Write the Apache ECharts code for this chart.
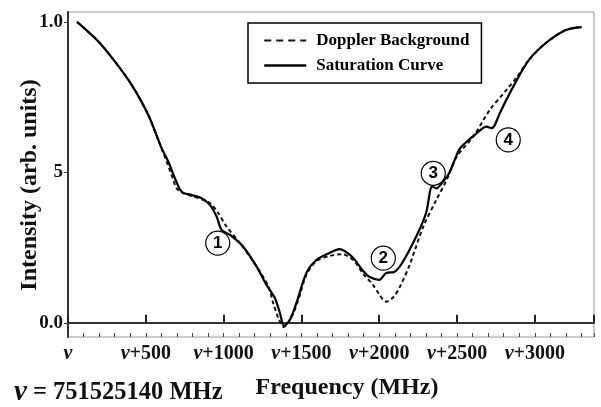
<!DOCTYPE html>
<html><head><meta charset="utf-8">
<script src="https://cdn.jsdelivr.net/npm/echarts@6/dist/echarts.min.js"></script>
<style>html,body{margin:0;padding:0;background:#fff}#c{width:601px;height:407px}</style>
</head><body><div id="c"></div>
<script>
const seriesNames = ['Doppler Background', 'Saturation Curve'];
const satFreq = [58, 195, 302, 409, 516, 602, 644, 687, 730, 795, 859, 912, 955, 987, 1041, 1126, 1212, 1276, 1330, 1362, 1388, 1426, 1469, 1532, 1596, 1680, 1744, 1827, 1891, 1936, 2000, 2045, 2096, 2147, 2237, 2301, 2340, 2368, 2392, 2449, 2513, 2551, 2625, 2690, 2722, 2743, 2775, 2861, 2962, 3071, 3199, 3301];
const satIntensity = [1.0, 0.935, 0.868, 0.791, 0.691, 0.580, 0.536, 0.481, 0.436, 0.425, 0.414, 0.392, 0.353, 0.309, 0.292, 0.253, 0.187, 0.126, 0.082, 0.032, -0.010, 0.010, 0.068, 0.166, 0.209, 0.232, 0.245, 0.219, 0.176, 0.153, 0.143, 0.166, 0.169, 0.199, 0.286, 0.365, 0.453, 0.447, 0.458, 0.497, 0.575, 0.597, 0.630, 0.652, 0.647, 0.658, 0.697, 0.785, 0.874, 0.930, 0.973, 0.983];
const dopFreq = [58, 195, 302, 409, 516, 597, 634, 677, 698, 741, 805, 912, 966, 1019, 1105, 1212, 1287, 1319, 1351, 1373, 1385, 1437, 1480, 1532, 1596, 1680, 1763, 1840, 1900, 1955, 2000, 2043, 2090, 2133, 2197, 2283, 2368, 2433, 2497, 2604, 2711, 2818, 2882, 2962, 3071, 3199, 3301];
const dopIntensity = [1.0, 0.935, 0.868, 0.791, 0.691, 0.585, 0.536, 0.475, 0.447, 0.431, 0.420, 0.398, 0.364, 0.320, 0.265, 0.187, 0.121, 0.065, 0.016, -0.007, -0.014, 0.021, 0.076, 0.160, 0.205, 0.222, 0.228, 0.205, 0.160, 0.130, 0.095, 0.070, 0.085, 0.120, 0.195, 0.320, 0.410, 0.475, 0.552, 0.619, 0.708, 0.774, 0.815, 0.874, 0.930, 0.973, 0.983];
const xTickValues = [0, 500, 1000, 1500, 2000, 2500, 3000];
const xTickLabels = ['ν', 'ν+500', 'ν+1000', 'ν+1500', 'ν+2000', 'ν+2500', 'ν+3000'];
const yTickValues = [0, 0.5, 1];
const yTickLabels = ['0.0', '5', '1.0'];
const peakLabels = ['1', '2', '3', '4'];
const peakFreq = [962, 2026, 2347, 2829];
const peakIntensity = [0.265, 0.215, 0.497, 0.608];
const xTitle = 'Frequency (MHz)';
const yTitle = 'Intensity (arb. units)';
const nuValue = ' = 751525140 MHz';

const serif = 'Liberation Serif';
const pair = (xs, ys) => xs.map((x, i) => [x, ys[i]]);

const chart = echarts.init(document.getElementById('c'), null, {renderer: 'canvas'});
chart.setOption({
  backgroundColor: '#fff',
  animation: false,
  color: ['#111', '#000'],
  grid: {left: 68, right: 7, top: 12, bottom: 70, show: true, borderColor: '#999', borderWidth: 1, containLabel: false},
  legend: {
    show: true, orient: 'vertical', left: 248, top: 23,
    padding: [9, 12, 9, 15], itemGap: 8, itemWidth: 42, itemHeight: 14,
    borderColor: '#000', borderWidth: 1.5, backgroundColor: '#fff',
    itemStyle: {opacity: 0},
    textStyle: {fontFamily: serif, fontWeight: 'bold', fontSize: 17, color: '#000', padding: [0, 0, 0, 5]},
    data: [
      {name: seriesNames[0], lineStyle: {type: [7, 5], width: 2, color: '#111'}},
      {name: seriesNames[1], lineStyle: {type: 'solid', width: 2.5, color: '#000'}}
    ]
  },
  xAxis: [
    {type: 'value', min: 0, max: 3380, interval: 500, position: 'bottom',
     axisLine: {show: true, lineStyle: {color: '#333', width: 2}},
     axisTick: {show: true, inside: true, length: 8, lineStyle: {color: '#222', width: 2}},
     splitLine: {show: false},
     axisLabel: {margin: 7, color: '#111',
       formatter: v => { const i = xTickValues.indexOf(v); if (i < 0) return ''; const s = xTickLabels[i]; return '{n|' + s[0] + '}' + (s.length > 1 ? '{t|' + s.slice(1) + '}' : ''); },
       rich: {n: {fontFamily: serif, fontWeight: 'bold', fontStyle: 'italic', fontSize: 20, color: '#111'},
              t: {fontFamily: serif, fontWeight: 'bold', fontSize: 20, color: '#111'}}}},
    {type: 'value', min: 0, max: 3380, interval: 100, position: 'bottom',
     axisLine: {show: false}, splitLine: {show: false}, axisLabel: {show: false},
     axisTick: {show: true, inside: true, length: 4, lineStyle: {color: '#444', width: 1}}}
  ],
  yAxis: {
    type: 'value', min: -0.047, max: 1.033,
    axisLine: {show: true, lineStyle: {color: '#333', width: 2}},
    axisTick: {show: true, inside: false, length: 4, customValues: yTickValues, lineStyle: {color: '#333', width: 1}},
    splitLine: {show: false},
    axisLabel: {margin: 5, customValues: yTickValues, fontFamily: serif, fontWeight: 'bold', fontSize: 19, color: '#111',
      formatter: v => { const i = yTickValues.indexOf(v); return i < 0 ? '' : yTickLabels[i]; }}
  },
  series: [
    {name: seriesNames[0], type: 'line', xAxisIndex: 0, data: pair(dopFreq, dopIntensity), smooth: 0.3, symbol: 'none',
     itemStyle: {color: '#111'},
     lineStyle: {color: '#111', width: 2, type: [4, 3]}, z: 2},
    {name: seriesNames[1], type: 'line', xAxisIndex: 0, data: pair(satFreq, satIntensity), smooth: 0.3, symbol: 'none',
     itemStyle: {color: '#000'},
     lineStyle: {color: '#000', width: 2.2, type: 'solid'}, z: 3,
     markPoint: {
       symbol: 'circle', symbolSize: 24, animation: false,
       itemStyle: {color: '#fff', borderColor: '#000', borderWidth: 1.2, opacity: 1},
       label: {show: true, position: 'inside', formatter: p => p.name, fontFamily: 'Liberation Sans', fontWeight: 'bold', fontSize: 17, color: '#000'},
       data: peakLabels.map((n, i) => ({name: n, coord: [peakFreq[i], peakIntensity[i]]}))
     }}
  ],
  graphic: [
    {type: 'text', x: 347, y: 388, style: {text: xTitle, font: 'bold 24px "Liberation Serif"', fill: '#111', textAlign: 'center', textVerticalAlign: 'middle'}},
    {type: 'text', x: 30, y: 185, rotation: Math.PI / 2, style: {text: yTitle, font: 'bold 24px "Liberation Serif"', fill: '#111', textAlign: 'center', textVerticalAlign: 'middle'}},
    {type: 'text', x: 14, y: 393, style: {text: '{n|ν}{t|' + nuValue + '}', textVerticalAlign: 'middle',
      rich: {n: {font: 'bold italic 29px "Liberation Serif"', fill: '#111'}, t: {font: 'bold 24.5px "Liberation Serif"', fill: '#111'}}}}
  ]
});
</script></body></html>
